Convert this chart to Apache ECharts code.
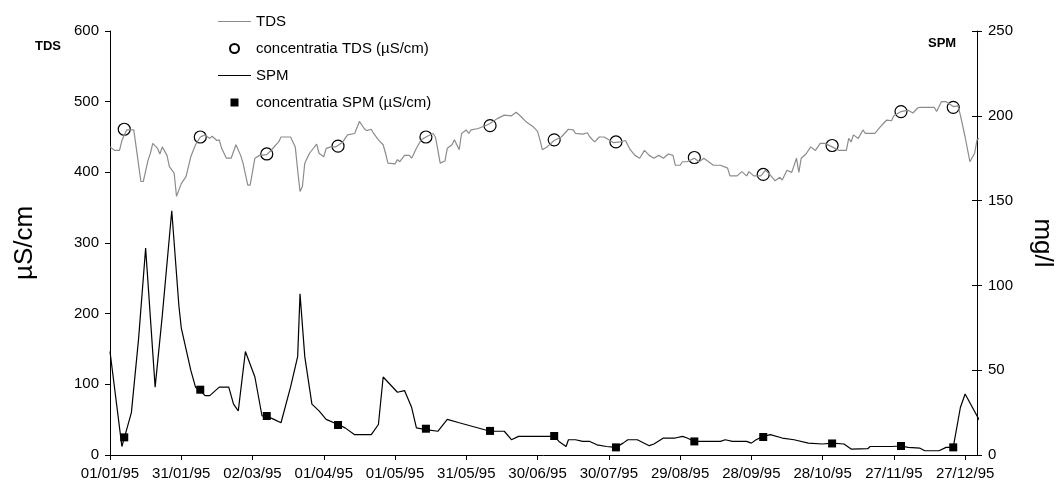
<!DOCTYPE html>
<html>
<head>
<meta charset="utf-8">
<script src="https://cdn.jsdelivr.net/npm/echarts@6/dist/echarts.min.js"></script>
<style>html,body{margin:0;padding:0;background:#fff}#c{width:1063px;height:488px}</style>
</head>
<body>
<div id="c"></div>
<script>
// Day offsets from 01/01/1995
var tdsDays = [0,2,4,5,7,10,11,13,14,16,17,18,20,21,22,24,25,27,28,30,32,34,36,38,40,42,43,45,46,47,49,51,53,55,56,58,59,61,63,66,68,71,72,76,78,79,80,81,82,84,87,88,90,91,93,95,98,100,103,105,107,108,110,111,113,115,116,117,120,121,122,124,126,127,129,131,133,136,137,138,139,141,142,144,145,147,148,150,151,152,155,158,160,163,166,169,171,173,175,178,180,181,182,184,187,190,193,195,196,199,201,202,204,206,208,210,212,215,217,219,221,223,225,227,229,231,233,235,237,238,240,241,243,246,248,250,252,254,257,260,261,264,266,268,269,271,274,276,278,280,282,283,285,287,289,290,291,293,295,297,299,301,304,307,310,311,312,313,315,317,318,322,325,327,329,330,333,336,338,340,341,345,347,348,350,352,355,357,358,360,362,364,365,368];
var tdsValues = [436,431,431,445,460,460,436,387,387,417,427,441,434,426,436,424,408,399,366,384,394,422,439,450,453,448,451,445,446,434,420,420,439,424,413,382,382,420,424,425,432,443,450,450,436,403,373,380,413,427,440,427,422,434,436,436,443,453,455,472,462,459,461,455,446,439,427,413,412,418,415,424,424,420,434,446,450,455,450,432,413,416,434,439,446,432,455,460,455,460,462,466,469,476,481,480,485,479,472,465,458,446,432,436,445,450,461,460,455,454,456,450,443,450,450,446,442,443,445,432,424,420,431,424,420,424,420,426,424,410,410,415,415,420,415,420,415,410,410,406,395,395,401,395,401,395,395,403,396,388,393,389,403,400,420,400,420,426,436,431,441,441,436,431,431,448,443,453,448,460,455,455,467,474,473,480,486,488,484,491,492,492,492,486,500,500,493,494,481,450,415,427,446,453];
var spmDays = [0,5,6,9,12,15,19,22,26,29,30,34,36,38,40,42,46,50,52,54,57,61,64,66,69,72,76,79,80,82,85,88,91,96,99,103,108,110,113,115,121,124,127,129,133,138,142,147,160,166,169,172,180,187,189,192,193,196,199,202,205,209,213,216,218,222,227,229,233,238,241,243,246,249,257,259,262,268,270,272,275,278,283,288,294,300,304,309,312,319,320,329,333,336,341,343,349,352,355,358,360,367];
var spmValues = [61,5,10,25,68,122,40,82,144,88,75,50,40,38,35,35,40,40,30,26,61,46,23,23,21,19,40,58,95,58,30,26,21,18,16,12,12,12,18,46,37,38,28,16,15,14,21,19,14,14,9,11,11,11,8,5,9,9,8,8,6,5,4.5,7,9,9,5.5,6.5,10,10,11,10,8,8,8,9,8,8,7,9,11,12,10,9,7,6.5,7,6.5,3.5,3.7,5,5,5.3,4.5,4,2.5,2.5,4.5,4.5,28,36,18];
var sampleDays = [6,38,66,96,133,160,187,213,246,275,304,333,355];
var sampleTDS = [461,450,426,437,450,466,446,443,421,397,438,486,492];
var sampleSPM = [10.4,38.5,23,17.7,15.5,14.2,11.2,4.5,8,10.6,6.8,5.3,4.5];
var leftTicks = [0,100,200,300,400,500,600];
var rightTicks = [0,50,100,150,200,250];

function pairs(xs, ys){ return xs.map(function(x,i){ return [x, ys[i]]; }); }
function fmtDay(v){
  if (v > 360) return '';
  var d = new Date(Date.UTC(1995,0,1) + v*86400000);
  var dd = ('0'+d.getUTCDate()).slice(-2), mm = ('0'+(d.getUTCMonth()+1)).slice(-2), yy = ('0'+(d.getUTCFullYear()%100)).slice(-2);
  return dd+'/'+mm+'/'+yy;
}
var FONT = 'Liberation Sans, Arial, sans-serif';
var LINE_ICON = 'path://M0,0 M0,4 L33,4 L33,5 L0,5 Z M33,9';
var SQUARE_ICON = 'path://M0,0 M12.5,0.5 L20.5,0.5 L20.5,8.5 L12.5,8.5 Z M33,9';
var chart = echarts.init(document.getElementById('c'), null, {renderer:'canvas'});
chart.setOption({
  animation: false,
  backgroundColor: '#fff',
  textStyle: {fontFamily: FONT},
  grid: {left:110, right:83, top:31, bottom:33, containLabel:false},
  legend: {
    orient:'vertical', left:213, top:9, itemWidth:33, itemHeight:9, itemGap:12,
    textStyle:{fontFamily:FONT, fontSize:15, color:'#000'},
    data:[
      {name:'TDS', icon:LINE_ICON},
      {name:'concentratia TDS (µS/cm)'},
      {name:'SPM', icon:LINE_ICON},
      {name:'concentratia SPM (µS/cm)', icon:SQUARE_ICON}
    ]
  },
  xAxis: {
    type:'value', min:0, max:365, interval:30,
    axisLine:{show:true, lineStyle:{color:'#000', width:1}},
    axisTick:{show:true, length:5, lineStyle:{color:'#000'}},
    axisLabel:{formatter:fmtDay, color:'#000', fontSize:15, fontFamily:FONT, margin:11, showMaxLabel:false},
    splitLine:{show:false}
  },
  yAxis: [{
    type:'value', min:leftTicks[0], max:leftTicks[leftTicks.length-1], interval:100,
    name:'µS/cm', nameLocation:'middle', nameGap:72, nameRotate:90,
    nameTextStyle:{fontSize:26, color:'#000', fontFamily:FONT},
    axisLine:{show:true, lineStyle:{color:'#000'}},
    axisTick:{show:true, length:5, lineStyle:{color:'#000'}},
    axisLabel:{color:'#000', fontSize:15, fontFamily:FONT, margin:11},
    splitLine:{show:false}
  },{
    type:'value', min:rightTicks[0], max:rightTicks[rightTicks.length-1], interval:50, position:'right',
    name:'mg/l', nameLocation:'middle', nameGap:52, nameRotate:-90,
    nameTextStyle:{fontSize:26, color:'#000', fontFamily:FONT},
    axisLine:{show:true, lineStyle:{color:'#000'}},
    axisTick:{show:true, length:5, lineStyle:{color:'#000'}},
    axisLabel:{color:'#000', fontSize:15, fontFamily:FONT, margin:11},
    splitLine:{show:false}
  },{
    type:'value', min:rightTicks[0], max:rightTicks[rightTicks.length-1], interval:50, position:'right',
    axisLine:{show:false},
    axisTick:{show:true, inside:true, length:5, lineStyle:{color:'#000'}},
    axisLabel:{show:false},
    splitLine:{show:false}
  }],
  graphic: [
    {type:'text', left:35, top:40, style:{text:'TDS', font:'bold 13px '+FONT, fill:'#000'}},
    {type:'text', left:928, top:37, style:{text:'SPM', font:'bold 13px '+FONT, fill:'#000'}}
  ],
  series: [
    {name:'TDS', type:'line', yAxisIndex:0, data:pairs(tdsDays,tdsValues), showSymbol:false, symbol:'none', clip:false,
     lineStyle:{color:'#8c8c8c', width:1.2}, itemStyle:{color:'#8c8c8c'}},
    {name:'concentratia TDS (µS/cm)', type:'scatter', yAxisIndex:0, data:pairs(sampleDays,sampleTDS), symbol:'circle', symbolSize:12,
     itemStyle:{color:'rgba(255,255,255,0)', borderColor:'#000', borderWidth:1.2, opacity:1}},
    {name:'SPM', type:'line', yAxisIndex:1, data:pairs(spmDays,spmValues), showSymbol:false, symbol:'none', clip:false,
     lineStyle:{color:'#000', width:1.2}, itemStyle:{color:'#000'}},
    {name:'concentratia SPM (µS/cm)', type:'scatter', yAxisIndex:1, data:pairs(sampleDays,sampleSPM), symbol:'rect', symbolSize:8,
     itemStyle:{color:'#000', opacity:1}}
  ]
});
</script>
</body>
</html>
